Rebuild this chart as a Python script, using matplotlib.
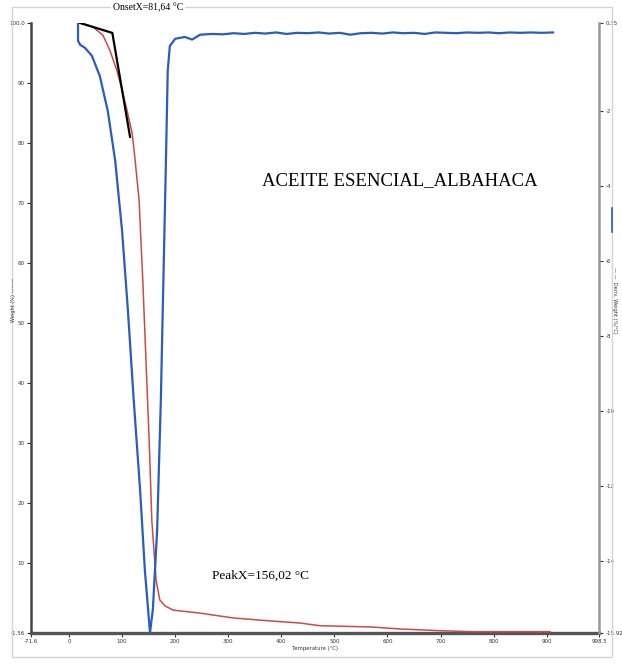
import matplotlib.pyplot as plt
from matplotlib.patches import Rectangle

# Weight curve (left axis, %)
temp_w = [20, 45, 64, 77, 90, 100, 109, 119, 124, 132, 139, 145, 151, 156, 164, 171,
          181, 196, 247, 309, 373, 435, 473, 567, 624, 699, 761, 863, 906]
weight = [100.0, 99.3, 97.9, 95.4, 92.1, 88.8, 85.5, 81.6, 77.6, 70.5, 57.1, 43.8, 30.5,
          17.2, 7.2, 3.9, 2.9, 2.2, 1.7, 0.9, 0.44, 0.05, -0.4, -0.6, -0.94, -1.23,
          -1.39, -1.39, -1.39]

# Onset tangent construction (black)
temp_onset = [19, 81.64, 115]
weight_onset = [100.0, 98.3, 81.0]

# Derivative weight (right axis)
temp_d = [17, 17, 21, 30, 43, 58, 73, 87, 100, 111, 122, 134, 143, 152.6, 158, 166,
          173, 179, 183, 186, 190, 200, 218, 232, 247,
          270, 290, 310, 330, 350, 370, 390, 410, 430, 450, 470, 490, 510, 530, 550,
          570, 590, 610, 630, 650, 670, 690, 710, 730, 750, 770, 790, 810, 830, 850,
          870, 890, 912]
deriv = [0.35, -0.13, -0.24, -0.32, -0.53, -1.07, -2.0, -3.33, -5.2, -7.33, -9.73,
         -12.13, -14.27, -15.92, -15.3, -13.2, -9.73, -5.73, -3.07, -0.93, -0.27,
         -0.08, -0.03, -0.1, 0.03,
         0.05, 0.04, 0.07, 0.05, 0.08, 0.06, 0.09, 0.05, 0.08, 0.07, 0.09, 0.06,
         0.08, 0.03, 0.07, 0.08, 0.06, 0.09, 0.07, 0.08, 0.05, 0.09, 0.08, 0.07,
         0.09, 0.08, 0.09, 0.07, 0.09, 0.08, 0.09, 0.08, 0.09]

x_ticks = [-71.6, 0, 100, 200, 300, 400, 500, 600, 700, 800, 900, 998.5]
x_labels = ['-71.6', '0', '100', '200', '300', '400', '500', '600', '700', '800', '900', '998.5']
yl_ticks = [-1.56, 10, 20, 30, 40, 50, 60, 70, 80, 90, 100]
yl_labels = ['-1.56', '10', '20', '30', '40', '50', '60', '70', '80', '90', '100.0']
yr_ticks = [0.35, -2, -4, -6, -8, -10, -12, -14, -15.92]
yr_labels = ['0.35', '-2', '-4', '-6', '-8', '-10', '-12', '-14', '-15.92']

fig = plt.figure(figsize=(6.22, 6.65), dpi=100)
W, H = 622, 665

# light frame around the picture
fig.patches.append(Rectangle((12 / W, 1 - 657 / H), 600 / W, 650 / H,
                             transform=fig.transFigure, fill=False,
                             edgecolor='#d4d4d4', linewidth=1))

ax = fig.add_axes([31 / W, 1 - 632.7 / H, 568 / W, 610 / H])
ax2 = ax.twinx()

ax.plot(temp_w, weight, color='#cc4a45', linewidth=1.1, zorder=3)
ax.plot(temp_onset, weight_onset, color='black', linewidth=1.6, zorder=4)
ax2.plot(temp_d, deriv, color='#2a5cc0', linewidth=1.6, zorder=3)

ax.set_xlim(-71.6, 998.5)
ax.set_ylim(-1.56, 100)
ax2.set_ylim(-15.92, 0.35)

ax.set_xticks(x_ticks)
ax.set_xticklabels(x_labels)
ax.set_yticks(yl_ticks)
ax.set_yticklabels(yl_labels)
ax2.set_yticks(yr_ticks)
ax2.set_yticklabels(yr_labels)

for a in (ax, ax2):
    a.spines['top'].set_visible(False)
    a.tick_params(labelsize=4, colors='#333333', length=3, width=0.8, pad=1.5)
ax.spines['left'].set_color('#444444')
ax.spines['left'].set_linewidth(1.8)
ax.spines['bottom'].set_color('#555555')
ax.spines['bottom'].set_linewidth(2.4)
ax.spines['right'].set_visible(False)
ax2.spines['left'].set_visible(False)
ax2.spines['bottom'].set_visible(False)
ax2.spines['right'].set_color('#9a9a9a')
ax2.spines['right'].set_linewidth(1.8)

ax.set_xlabel('Temperature (°C)', fontsize=3.8, color='#333333', labelpad=2)
ax.xaxis.set_label_coords(0.5, -0.022)

# axis titles with legend samples
fig.text(14 / W, 1 - 300 / H, 'Weight (%) ———', rotation=90, fontsize=3.6,
         color='#333333', ha='center', va='center')
fig.lines.append(plt.Line2D([612 / W, 612 / W], [1 - 208 / H, 1 - 232 / H],
                            transform=fig.transFigure, color='#2a5cc0', linewidth=1.2))
fig.text(615 / W, 1 - 300 / H, '— —  Deriv. Weight (%/°C)', rotation=270, fontsize=3.6,
         color='#333333', ha='center', va='center')

serif = ['Liberation Serif', 'DejaVu Serif']
fig.text(148 / W, 1 - 8 / H, 'OnsetX=81,64 °C', fontsize=7, family=serif,
         ha='center', va='center',
         bbox=dict(facecolor='white', edgecolor='none', pad=1.5))
fig.text(262 / W, 1 - 181 / H, 'ACEITE ESENCIAL_ALBAHACA', fontsize=13.5,
         family=serif, ha='left', va='center')
fig.text(212 / W, 1 - 576 / H, 'PeakX=156,02 °C', fontsize=9.5, family=serif,
         ha='left', va='center')

plt.savefig('out.png', dpi=100, facecolor='white')
plt.close()
